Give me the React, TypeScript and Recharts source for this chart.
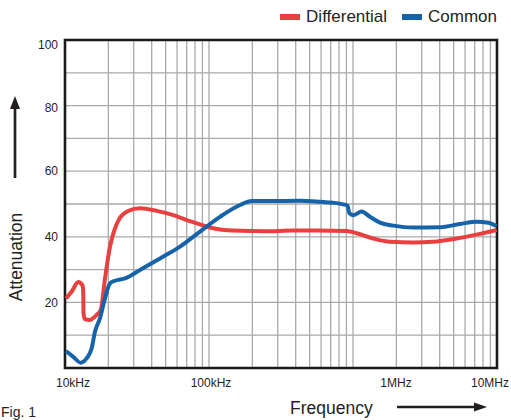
import React from 'react';
import { LineChart, Line, XAxis, YAxis, CartesianGrid, Legend, ReferenceArea } from 'recharts';

// values (frequency in Hz, attenuation in dB)
const RED_FREQ = [10150, 11130, 12370, 13270, 13400, 13440, 13770, 14750, 16600, 17700, 18960, 20540, 22250, 24100, 27520, 33180, 43340, 56520, 70000, 86600, 106600, 146800, 251600, 383100, 559700, 904000, 1061000, 1384000, 1807000, 2623000, 3611000, 5250000, 7620000, 9950000];
const RED_ATT = [21.2, 23.3, 26.2, 25.1, 22.3, 16.7, 14.9, 14.6, 16.2, 17.7, 27.3, 37.0, 42.6, 45.8, 47.9, 48.7, 47.9, 46.6, 45.1, 43.8, 42.6, 41.9, 41.7, 41.9, 41.9, 41.8, 41.1, 39.5, 38.5, 38.3, 38.5, 39.5, 40.9, 42.1];

const BLUE_FREQ = [10150, 11420, 12850, 14150, 15320, 16160, 17500, 18960, 20540, 22250, 26100, 33180, 45690, 62890, 86600, 119200, 164200, 198000, 251600, 428500, 590000, 726000, 856000, 916000, 943000, 1005000, 1149000, 1312000, 1540000, 1905000, 2623000, 4020000, 5535000, 7228000, 8700000, 9950000];
const BLUE_ATT = [5.2, 3.4, 1.6, 3.0, 6.0, 11.1, 15.2, 21.3, 25.8, 26.6, 27.3, 29.9, 33.4, 37.0, 41.6, 46.1, 49.7, 50.9, 50.9, 51.0, 50.7, 50.4, 49.9, 49.5, 47.2, 46.6, 47.7, 46.1, 44.3, 43.4, 42.8, 42.9, 43.9, 44.6, 44.3, 43.3];

const DECADES = [1e4, 1e5, 1e6];
const MULTS = [1, 2, 3, 4, 5, 6, 7, 8, 9];
const X_LABEL_VALUES = [1e4, 1e5, 1e6, 1e7];
const X_LABELS = ['10kHz', '100kHz', '1MHz', '10MHz'];
const X_LABEL_NUDGE = [8, 2, 43, -7];

const Y_TICKS = [0, 10, 20, 30, 40, 50, 60, 70, 80, 90, 100];
const Y_LABEL_VALUES = [20, 40, 60, 80, 100];

const RED = '#e8403f';
const BLUE = '#1763aa';
const FONT = '"Liberation Sans", Arial, sans-serif';
const TEXT = '#231f20';

const xTicks = [...DECADES.flatMap(d => MULTS.map(m => m * d)), 1e7];
const redData = RED_FREQ.map((f, i) => ({ f, v: RED_ATT[i] }));
const blueData = BLUE_FREQ.map((f, i) => ({ f, v: BLUE_ATT[i] }));

const XTick = (props: any) => {
    const { x, y, payload } = props;
    const i = X_LABEL_VALUES.findIndex(v => Math.abs(v - payload.value) / v < 1e-6);
    if (i < 0) return <g />;
    return (
        <text x={x + X_LABEL_NUDGE[i]} y={y} dy="0.71em" textAnchor="middle" fontSize={12} fontFamily={FONT} fill={TEXT}>
            {X_LABELS[i]}
        </text>
    );
};

const YTick = (props: any) => {
    const { x, y, payload } = props;
    if (!Y_LABEL_VALUES.includes(payload.value)) return <g />;
    const nudge = payload.value === 100 ? 5 : payload.value === 80 ? 2 : 0;
    return (
        <text x={x} y={y + nudge} dy="0.35em" textAnchor="end" fontSize={12} fontFamily={FONT} fill={TEXT}>
            {payload.value}
        </text>
    );
};

const LegendContent = () => (
    <div style={{ display: 'flex', justifyContent: 'flex-end', alignItems: 'center', fontFamily: FONT, fontSize: 17, color: TEXT, lineHeight: 1 }}>
        {[{ name: 'Differential', color: RED }, { name: 'Common', color: BLUE }].map((item, idx) => (
            <div key={item.name} style={{ display: 'flex', alignItems: 'center', marginLeft: idx ? 15 : 0 }}>
                <span style={{ width: 20, height: 6, background: item.color, marginRight: 6 }} />
                <span>{item.name}</span>
            </div>
        ))}
    </div>
);

const App: React.FC = () => {
    return (
        <div style={{ position: 'absolute', left: 0, top: 0, width: 511, height: 420, background: '#fff' }}>
            <LineChart width={511} height={420} margin={{ top: 40, right: 14, bottom: 22, left: 5 }}>
                <CartesianGrid stroke="#a9a9a9" strokeWidth={1.3} />
                <XAxis
                    type="number"
                    dataKey="f"
                    scale="log"
                    domain={[1e4, 1e7]}
                    allowDataOverflow
                    ticks={xTicks}
                    interval={0}
                    tick={<XTick />}
                    tickLine={false}
                    axisLine={false}
                    tickSize={0}
                    tickMargin={10}
                    height={30}
                />
                <YAxis
                    type="number"
                    domain={[0, 100]}
                    ticks={Y_TICKS}
                    interval={0}
                    tick={<YTick />}
                    tickLine={false}
                    axisLine={false}
                    tickSize={0}
                    tickMargin={7}
                    width={60}
                />
                <Legend
                    layout="horizontal"
                    align="center"
                    verticalAlign="middle"
                    content={<LegendContent />}
                    wrapperStyle={{ top: 8, left: 0, width: 497, height: 18 }}
                />
                <Line data={redData} dataKey="v" name="Differential" type="monotone" stroke={RED} strokeWidth={4} dot={false} isAnimationActive={false} />
                <Line data={blueData} dataKey="v" name="Common" type="monotone" stroke={BLUE} strokeWidth={4} dot={false} isAnimationActive={false} />
                <ReferenceArea x1={1e4} x2={1e7} y1={0} y2={100} fill="none" stroke="#1a1a1a" strokeWidth={2.6} />
            </LineChart>
            <svg width={511} height={420} style={{ position: 'absolute', left: 0, top: 0, pointerEvents: 'none' }}>
                <text transform="translate(22,257) rotate(-90)" textAnchor="middle" fontSize={17.5} fontFamily={FONT} fill={TEXT}>
                    Attenuation
                </text>
                <line x1={15} y1={178} x2={15} y2={106} stroke={TEXT} strokeWidth={2.7} />
                <polygon points="15,96 10,109 20,109" fill={TEXT} />
                <text x={290} y={414} fontSize={17.5} fontFamily={FONT} fill={TEXT}>
                    Frequency
                </text>
                <line x1={397} y1={407} x2={476} y2={407} stroke={TEXT} strokeWidth={2.7} />
                <polygon points="487,407 474,402.5 474,411.5" fill={TEXT} />
                <text x={1} y={417} fontSize={14} fontFamily={FONT} fill={TEXT}>
                    Fig. 1
                </text>
            </svg>
        </div>
    );
};

export default App;
